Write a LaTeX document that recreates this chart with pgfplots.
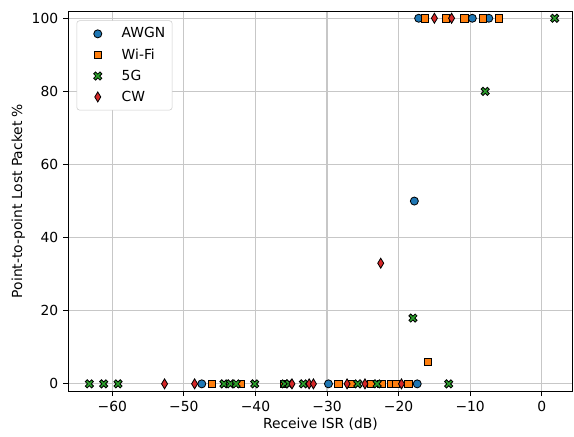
\documentclass[border=0pt]{standalone}
\usepackage{fontspec}
\setmainfont{DejaVu Sans}
\usepackage{pgfplots}
\pgfplotsset{compat=1.18}
\usetikzlibrary{calc}
\definecolor{cA}{HTML}{1F77B4}
\definecolor{cB}{HTML}{FF7F0E}
\definecolor{cC}{HTML}{2CA02C}
\definecolor{cD}{HTML}{D62728}
\pgfdeclareplotmark{Xf}{%
  \pgfpathmoveto{\pgfpoint{0pt}{0.424\pgfplotmarksize}}%
  \pgfpathlineto{\pgfpoint{-0.495\pgfplotmarksize}{0.919\pgfplotmarksize}}%
  \pgfpathlineto{\pgfpoint{-0.919\pgfplotmarksize}{0.495\pgfplotmarksize}}%
  \pgfpathlineto{\pgfpoint{-0.424\pgfplotmarksize}{0pt}}%
  \pgfpathlineto{\pgfpoint{-0.919\pgfplotmarksize}{-0.495\pgfplotmarksize}}%
  \pgfpathlineto{\pgfpoint{-0.495\pgfplotmarksize}{-0.919\pgfplotmarksize}}%
  \pgfpathlineto{\pgfpoint{0pt}{-0.424\pgfplotmarksize}}%
  \pgfpathlineto{\pgfpoint{0.495\pgfplotmarksize}{-0.919\pgfplotmarksize}}%
  \pgfpathlineto{\pgfpoint{0.919\pgfplotmarksize}{-0.495\pgfplotmarksize}}%
  \pgfpathlineto{\pgfpoint{0.424\pgfplotmarksize}{0pt}}%
  \pgfpathlineto{\pgfpoint{0.919\pgfplotmarksize}{0.495\pgfplotmarksize}}%
  \pgfpathlineto{\pgfpoint{0.495\pgfplotmarksize}{0.919\pgfplotmarksize}}%
  \pgfpathclose
  \pgfusepathqfillstroke}
\pgfdeclareplotmark{thind}{%
  \pgfpathmoveto{\pgfpoint{0pt}{\pgfplotmarksize}}%
  \pgfpathlineto{\pgfpoint{-0.6\pgfplotmarksize}{0pt}}%
  \pgfpathlineto{\pgfpoint{0pt}{-\pgfplotmarksize}}%
  \pgfpathlineto{\pgfpoint{0.6\pgfplotmarksize}{0pt}}%
  \pgfpathclose
  \pgfusepathqfillstroke}
\begin{document}
\begin{tikzpicture}
\begin{axis}[
  scale only axis,
  width=364.3pt, height=274.3pt,
  xmin=-66.2, xmax=4.35, ymin=-2, ymax=102,
  xtick={-60,-50,-40,-30,-20,-10,0},
  xticklabels={−60,−50,−40,−30,−20,−10,0},
  ytick={0,20,40,60,80,100},
  /pgf/number format/assume math mode=true,
  tick label style={font=\fontsize{10}{12}\selectfont},
  label style={font=\fontsize{10}{12}\selectfont},
  xlabel={Receive ISR (dB)},
  ylabel={Point-to-point Lost Packet \%},
  xlabel style={yshift=2pt},
  ylabel style={yshift=-2pt},
  grid=major,
  major grid style={draw=black!22, line width=0.8pt},
  tick align=outside,
  tick style={black, line width=0.6pt},
  major tick length=3.5pt,
  xtick pos=bottom, ytick pos=left,
  axis line style={line width=0.6pt},
  legend style={at={(0.017,0.975)}, anchor=north west, draw=black!20, rounded corners=2pt,
    font=\fontsize{10}{12}\selectfont, row sep=2.2pt, inner xsep=3pt, inner ysep=3pt},
  legend image code/.code={\path (0cm,0cm) (0.95cm,0cm); \draw[#1] plot coordinates {(0.42cm,0cm)};},
  legend cell align=left,
  only marks,
]
\addplot[mark=*, mark size=2.9pt, mark options={fill=cA, draw=black, line width=0.6pt}] coordinates {
(-47.5,0) (-29.8,0) (-17.4,0) (-17.8,50) (-17.2,100) (-9.7,100) (-7.4,100)};
\addlegendentry{AWGN}
\addplot[mark=square*, mark size=2.7pt, mark options={fill=cB, draw=black, line width=0.6pt}] coordinates {
(-46.1,0) (-42.0,0) (-36.0,0) (-28.4,0) (-26.6,0) (-23.9,0) (-22.4,0) (-21.0,0) (-20.4,0) (-18.6,0)
(-15.9,6) (-16.3,100) (-13.4,100) (-10.8,100) (-8.2,100) (-6.0,100)};
\addlegendentry{Wi-Fi}
\addplot[mark=Xf, mark size=3.2pt, mark options={fill=cC, draw=black, line width=0.6pt}] coordinates {
(-63.2,0) (-61.2,0) (-59.2,0) (-44.4,0) (-43.5,0) (-42.7,0) (-40.1,0) (-35.9,0) (-35.3,0)
(-33.3,0) (-25.7,0) (-23.0,0) (-18.0,18) (-13.0,0) (-7.9,80) (1.8,100)};
\addlegendentry{5G}
\addplot[mark=thind, mark size=3.6pt, mark options={fill=cD, draw=black, line width=0.6pt}] coordinates {
(-52.7,0) (-48.5,0) (-34.9,0) (-32.5,0) (-31.9,0) (-27.2,0) (-24.7,0) (-19.6,0) (-22.5,33)
(-15.0,100) (-12.6,100)};
\addlegendentry{CW}
\end{axis}
\useasboundingbox ($(current axis.south west)+(-49pt,-32.4pt)$) rectangle ($(current axis.north east)+(0.8pt,7.9pt)$);
\end{tikzpicture}
\end{document}
